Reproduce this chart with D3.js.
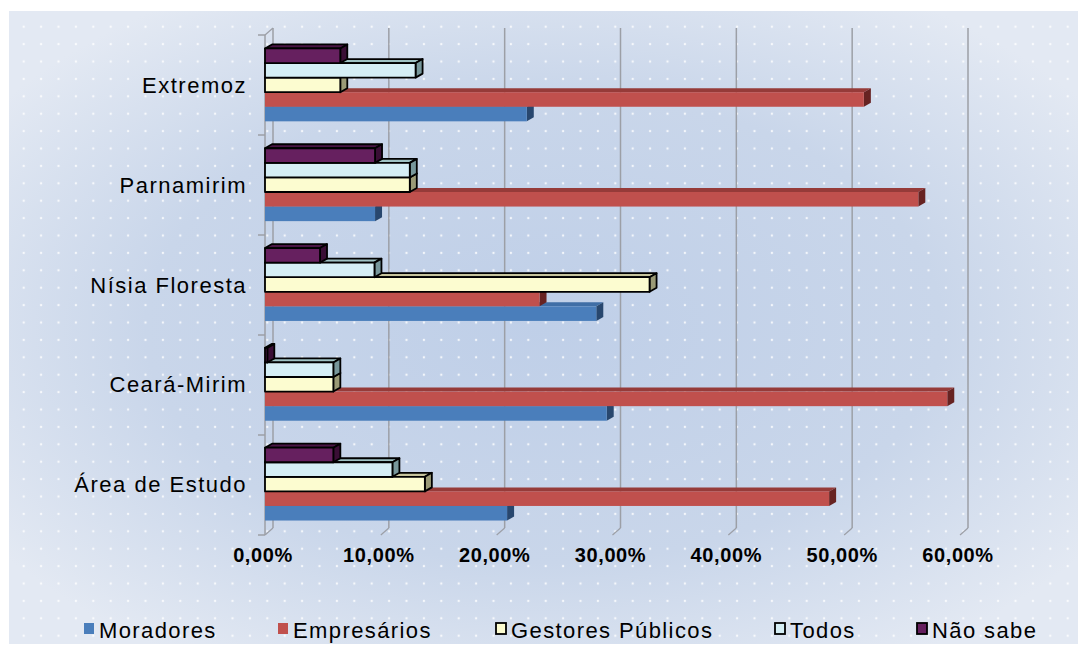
<!DOCTYPE html>
<html><head><meta charset="utf-8">
<script src="https://cdn.jsdelivr.net/npm/d3@7/dist/d3.min.js"></script>
<style>body{margin:0;background:#fff}svg{display:block}</style>
</head><body>
<svg id="chart" width="1086" height="653"></svg>
<script>
// ---- data ----
const categories = ["Área de Estudo", "Ceará-Mirim", "Nísia Floresta", "Parnamirim", "Extremoz"];
const seriesNames = ["Moradores", "Empresários", "Gestores Públicos", "Todos", "Não sabe"];
const moradores   = [20.9, 29.5, 28.6, 9.5, 22.6];
const empresarios = [48.7, 58.9, 23.7, 56.4, 51.7];
const gestores    = [13.8, 5.9, 33.2, 12.5, 6.5];
const todos       = [11.0, 5.9, 9.45, 12.5, 13.0];
const naoSabe     = [5.9, 0.2, 4.75, 9.5, 6.5];
const tickValues  = [0, 10, 20, 30, 40, 50, 60];

const seriesValues = [moradores, empresarios, gestores, todos, naoSabe];
const styles = [
  {front:"#4a7ebb", top:"#3f6ea6", side:"#28476e", stroke:null},
  {front:"#c0504d", top:"#963b39", side:"#672322", stroke:null},
  {front:"#fcfcd0", top:"#c6c49c", side:"#9a9a76", stroke:"#000"},
  {front:"#d5eef5", top:"#9fc3c4", side:"#77979b", stroke:"#000"},
  {front:"#66205f", top:"#4a1545", side:"#3a0e35", stroke:"#000"}
];
const legendX = [84, 278, 496, 775, 917];

const svg = d3.select("#chart");
const defs = svg.append("defs");
const rg = defs.append("radialGradient").attr("id","bg").attr("cx","50%").attr("cy","50%").attr("r","62%");
rg.append("stop").attr("offset","0%").attr("stop-color","#bfcfe8");
rg.append("stop").attr("offset","60%").attr("stop-color","#c9d6ea");
rg.append("stop").attr("offset","100%").attr("stop-color","#e3e9f3");
const pat = defs.append("pattern").attr("id","dots").attr("patternUnits","userSpaceOnUse")
  .attr("width",17.4).attr("height",17.4).attr("x",-2.4).attr("y",0.6);
pat.append("circle").attr("cx",8.7).attr("cy",8.7).attr("r",1.2).attr("fill","#fff").attr("opacity",0.8);

svg.append("rect").attr("x",9).attr("y",11).attr("width",1069).attr("height",633).attr("fill","url(#bg)");
svg.append("rect").attr("x",9).attr("y",11).attr("width",1069).attr("height",633).attr("fill","url(#dots)");

// ---- scales ----
const x0 = 265, xMax = 960;
const x = d3.scaleLinear().domain([0,60]).range([x0, xMax]);
const y = d3.scaleBand().domain(categories.slice().reverse()).range([35,534]).paddingInner(0.27).paddingOuter(0.135);
const sub = d3.scaleBand().domain(seriesNames.slice().reverse()).range([0, y.bandwidth()]);
const wdx = 8, wdy = 7;  // wall depth
const bdx = 7, bdy = 4;  // bar depth
const yTop = 35, yBot = 535;

// gridlines on back wall
const g = svg.append("g");
g.selectAll("line.grid").data(tickValues).join("line")
  .attr("x1", d => x(d)+wdx).attr("x2", d => x(d)+wdx)
  .attr("y1", yTop-wdy).attr("y2", yBot-wdy)
  .attr("stroke","#9c9fa6").attr("stroke-width",1.5);
// floor diagonals
g.selectAll("line.floor").data(tickValues).join("line")
  .attr("x1", d => x(d)+wdx).attr("y1", yBot-wdy)
  .attr("x2", d => x(d)).attr("y2", yBot)
  .attr("stroke","#9c9fa6").attr("stroke-width",1.2);
// left wall
g.append("line").attr("x1",x0).attr("x2",x0).attr("y1",yTop).attr("y2",yBot).attr("stroke","#9c9fa6").attr("stroke-width",1.5);
g.append("line").attr("x1",x0).attr("y1",yTop).attr("x2",x0+wdx).attr("y2",yTop-wdy).attr("stroke","#9c9fa6").attr("stroke-width",1.2);
// ticks on category axis
const bounds = d3.range(categories.length+1).map(i => yTop + i*((yBot-yTop)/categories.length));
g.selectAll("line.tk").data(bounds).join("line")
  .attr("x1",x0-7).attr("x2",x0).attr("y1",d=>d).attr("y2",d=>d)
  .attr("stroke","#9c9fa6").attr("stroke-width",1.5);

// ---- bars ----
const bars = svg.append("g");
seriesNames.forEach((s, si) => {
  const st = styles[si];
  const sg = bars.append("g");
  categories.forEach((c, ci) => {
    const v = seriesValues[si][ci];
    const yy = y(c) + sub(s), h = sub.bandwidth();
    const xa = x(0), xb = x(v);
    const sw = st.stroke ? 1.8 : 0;
    const common = sel => sel.attr("stroke", st.stroke || "none").attr("stroke-width", sw).attr("stroke-linejoin","round");
    common(sg.append("polygon").attr("points", [[xa,yy],[xa+bdx,yy-bdy],[xb+bdx,yy-bdy],[xb,yy]].join(" ")).attr("fill", st.top));
    common(sg.append("polygon").attr("points", [[xb,yy],[xb+bdx,yy-bdy],[xb+bdx,yy+h-bdy],[xb,yy+h]].join(" ")).attr("fill", st.side));
    common(sg.append("rect").attr("x", xa).attr("y", yy).attr("width", xb-xa).attr("height", h).attr("fill", st.front));
  });
});

// ---- axis labels ----
const fmt = d => d.toFixed(2).replace(".", ",") + "%";
svg.append("g").selectAll("text").data(tickValues).join("text")
  .attr("x", d => x(d)-2).attr("y", 562).attr("text-anchor","middle")
  .attr("font-family","Liberation Sans, Arial, sans-serif").attr("font-weight","bold").attr("font-size",20)
  .attr("letter-spacing",0.6)
  .attr("fill","#000").text(fmt);
svg.append("g").selectAll("text").data(categories).join("text")
  .attr("x", 247).attr("y", c => y(c) + y.bandwidth()/2 + 8).attr("text-anchor","end")
  .attr("font-family","Liberation Sans, Arial, sans-serif").attr("font-size",22).attr("letter-spacing",1.5)
  .attr("fill","#000").text(c => c);

// ---- legend ----
const lg = svg.append("g");
seriesNames.forEach((s, si) => {
  const st = styles[si];
  lg.append("rect").attr("x", legendX[si]).attr("y", 623).attr("width", 10).attr("height", 11)
    .attr("fill", st.front).attr("stroke", st.stroke || "none").attr("stroke-width", st.stroke ? 1.8 : 0);
  lg.append("text").attr("x", legendX[si] + 15).attr("y", 638)
    .attr("font-family","Liberation Sans, Arial, sans-serif").attr("font-size",22).attr("letter-spacing",1.4)
    .attr("fill","#000").text(s);
});
</script>
</body></html>
